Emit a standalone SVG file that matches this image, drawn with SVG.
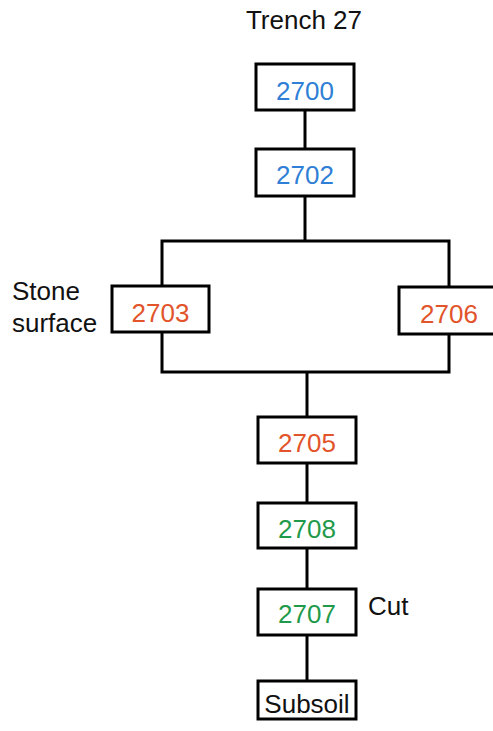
<svg xmlns="http://www.w3.org/2000/svg" width="493" height="731" viewBox="0 0 493 731">
<style>
.box{fill:#fff;stroke:#000;stroke-width:3}
.ln{fill:none;stroke:#000;stroke-width:3}
text{font-family:"Liberation Sans",Arial,sans-serif;font-size:26px}
.c{text-anchor:middle}
.b{fill:#2f7fd6}
.o{fill:#e2542a}
.g{fill:#1f9a4b}
.k{fill:#111}
</style>
<rect width="493" height="731" fill="#fff"/>
<g id="connectors">
<line class="ln" x1="305" y1="110" x2="305" y2="149"/>
<line class="ln" x1="305" y1="196" x2="305" y2="241"/>
<polyline class="ln" points="162,286 162,241 449,241 449,287"/>
<polyline class="ln" points="162,332 162,372 449,372 449,334"/>
<line class="ln" x1="307" y1="372" x2="307" y2="417"/>
<line class="ln" x1="307" y1="463" x2="307" y2="503"/>
<line class="ln" x1="307" y1="548" x2="307" y2="589"/>
<line class="ln" x1="307" y1="635" x2="307" y2="681"/>
</g>
<g id="title"><text class="c k" x="304" y="29">Trench 27</text></g>
<g id="n2700"><rect class="box" x="256" y="64" width="98" height="46"/><text class="c b" x="305" y="100">2700</text></g>
<g id="n2702"><rect class="box" x="256" y="149" width="98" height="47"/><text class="c b" x="305" y="184">2702</text></g>
<g id="n2703"><rect class="box" x="112" y="286" width="97" height="46"/><text class="c o" x="160.5" y="322">2703</text></g>
<g id="label-stone"><text class="k" x="12" y="300">Stone</text><text class="k" x="12" y="332">surface</text></g>
<g id="n2706"><rect class="box" x="399" y="287" width="100" height="47"/><text class="c o" x="449" y="323">2706</text></g>
<g id="n2705"><rect class="box" x="258" y="417" width="98" height="46"/><text class="c o" x="307" y="452">2705</text></g>
<g id="n2708"><rect class="box" x="258" y="503" width="98" height="45"/><text class="c g" x="307" y="538">2708</text></g>
<g id="n2707"><rect class="box" x="258" y="589" width="98" height="46"/><text class="c g" x="307" y="623">2707</text></g>
<g id="label-cut"><text class="k" x="368" y="615">Cut</text></g>
<g id="subsoil"><rect class="box" x="258" y="681" width="98" height="38"/><text class="c k" x="307" y="713">Subsoil</text></g>
</svg>
